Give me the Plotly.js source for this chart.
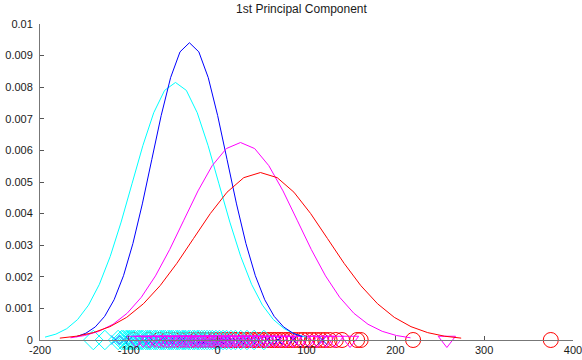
<!DOCTYPE html>
<html>
<head>
<meta charset="utf-8">
<script src="https://cdn.plot.ly/plotly-3.0.1.min.js"></script>
<style>html,body{margin:0;padding:0;background:#fff;}#chart{width:582px;height:360px;}</style>
</head>
<body>
<div id="chart"></div>
<script>
// Fitted density curves
var blueCurveX = [-159, -148.4, -137.8, -127.2, -116.6, -106, -95.4, -84.8, -74.2, -63.6, -53, -42.4, -31.8, -21.2, -10.6, 0, 10.6, 21.2, 31.8, 42.4, 53, 63.6, 74.2, 84.8, 95.4];
var blueCurveY = [0.0001045, 0.0002144, 0.0004133, 0.0007484, 0.0012731, 0.0020344, 0.003054, 0.004307, 0.005706, 0.007101, 0.008302, 0.009118, 0.009407, 0.009118, 0.008302, 0.007101, 0.005706, 0.004307, 0.003054, 0.0020344, 0.0012731, 0.0007484, 0.0004133, 0.0002144, 0.0001045];

var cyanCurveX = [-194.35, -182.11, -169.88, -157.64, -145.4, -133.16, -120.93, -108.69, -96.45, -84.21, -71.98, -59.74, -47.5, -35.26, -23.02, -10.79, 1.45, 13.69, 25.93, 38.16, 50.4, 62.64, 74.88, 87.11, 99.35];
var cyanCurveY = [0.0000905, 0.0001857, 0.0003581, 0.0006484, 0.001103, 0.0017626, 0.002646, 0.003731, 0.004943, 0.006152, 0.007192, 0.007899, 0.00815, 0.007899, 0.007192, 0.006152, 0.004943, 0.003731, 0.002646, 0.0017626, 0.001103, 0.0006484, 0.0003581, 0.0001857, 0.0000905];

var magentaCurveX = [-165.7, -149.75, -133.8, -117.85, -101.9, -85.95, -70.0, -54.05, -38.1, -22.15, -6.2, 9.75, 25.7, 41.65, 57.6, 73.55, 89.5, 105.45, 121.4, 137.35, 153.3, 169.25, 185.2, 201.15, 217.1];
var magentaCurveY = [0.0000694, 0.0001424, 0.0002746, 0.0004973, 0.0008459, 0.0013517, 0.002029, 0.002861, 0.003791, 0.004718, 0.005516, 0.006058, 0.00625, 0.006058, 0.005516, 0.004718, 0.003791, 0.002861, 0.002029, 0.0013517, 0.0008459, 0.0004973, 0.0002746, 0.0001424, 0.0000694];

var redCurveX = [-177.7, -158.88, -140.05, -121.23, -102.4, -83.58, -64.75, -45.93, -27.1, -8.28, 10.55, 29.38, 48.2, 67.03, 85.85, 104.68, 123.5, 142.33, 161.15, 179.98, 198.8, 217.63, 236.45, 255.28, 274.1];
var redCurveY = [0.0000589, 0.0001208, 0.0002329, 0.0004217, 0.0007173, 0.0011462, 0.0017206, 0.0024265, 0.0032146, 0.0040007, 0.0046773, 0.0051369, 0.0053, 0.0051369, 0.0046773, 0.0040007, 0.0032146, 0.0024265, 0.0017206, 0.0011462, 0.0007173, 0.0004217, 0.0002329, 0.0001208, 0.0000589];

// Individual scores along the axis
var bluePoints = [-115, -106, -100, -95, -90, -86, -82, -78, -74, -70, -67, -64, -61, -58, -55, -52, -49, -46, -43, -40, -37, -34, -31, -28, -25, -22, -19, -16, -13, -10, -7, -4, -1, 3, 7, 11, 15, 20, 25, 31, 38, 46, 56, 68, 85, 118];
var cyanPoints = [-140, -127, -112, -108, -106, -103, -101, -99, -97, -95, -93, -90, -88, -86, -84, -81, -79, -77, -75, -72, -70, -68, -65, -63, -61, -59, -56, -54, -52, -50, -47, -45, -43, -40, -38, -36, -33, -31, -28, -26, -23, -21, -18, -15, -12, -9, -6, -2, 2, 6, 10, 15, 20, 26, 33, 41, 52];
var magentaPoints = [-92, -84, -77, -71, -66, -61, -57, -53, -49, -45, -41, -38, -35, -32, -28, -25, -22, -19, -16, -13, -10, -7, -4, -1, 2, 5, 8, 11, 14, 17, 20, 23, 27, 31, 35, 39, 43, 48, 53, 58, 64, 70, 77, 85, 93, 102, 112, 122, 132, 149, 258];
var redPoints = [-95, -78, -66, -57, -49, -42, -36, -30, -24, -19, -14, -9, -4, 1, 6, 10, 14, 18, 22, 26, 30, 34, 38, 42, 46, 50, 54, 58, 62, 66, 70, 74, 78, 82, 86, 91, 96, 101, 106, 111, 116, 121, 126, 133, 140, 157, 161, 220, 375];

var xTicks = [-200, -100, 0, 100, 200, 300, 400];
var yTicks = [0, 0.001, 0.002, 0.003, 0.004, 0.005, 0.006, 0.007, 0.008, 0.009, 0.01];
var yTickText = ['0', '0.001', '0.002', '0.003', '0.004', '0.005', '0.006', '0.007', '0.008', '0.009', '0.01'];

function zeros(a){ return a.map(function(){ return 0; }); }

function pts(xs, color, symbol, size){
  return {x: xs, y: zeros(xs), type: 'scatter', mode: 'markers', cliponaxis: false,
    marker: {symbol: symbol, size: size, color: color, line: {color: color, width: 1}}, hoverinfo: 'skip'};
}
function curve(xs, ys, color){
  return {x: xs, y: ys, type: 'scatter', mode: 'lines', line: {color: color, width: 1}, cliponaxis: false, hoverinfo: 'skip'};
}

var data = [
  pts(redPoints, '#ff0000', 'circle-open', 15),
  pts(bluePoints, '#0000ff', 'x-thin-open', 9),
  pts(cyanPoints, '#00ffff', 'diamond-open', 15),
  pts(magentaPoints, '#ff00ff', 'triangle-down-open', 15),
  curve(cyanCurveX, cyanCurveY, '#00ffff'),
  curve(blueCurveX, blueCurveY, '#0000ff'),
  curve(magentaCurveX, magentaCurveY, '#ff00ff'),
  curve(redCurveX, redCurveY, '#ff0000')
];

var font = {family: 'Liberation Sans, Arial, sans-serif', size: 11, color: '#1a1a1a'};
var layout = {
  width: 582, height: 360,
  margin: {l: 40, r: 9, t: 24, b: 20, pad: 0},
  paper_bgcolor: '#ffffff', plot_bgcolor: '#ffffff',
  showlegend: false,
  font: font,
  title: {text: '1st Principal Component', font: {family: 'Liberation Sans, Arial, sans-serif', size: 12, color: '#1a1a1a'}, x: 0.518, xanchor: 'center', y: 0.975, yanchor: 'middle'},
  xaxis: {range: [-200, 400], tickvals: xTicks, ticktext: xTicks.map(String), ticks: 'inside', ticklen: 4, tickcolor: '#555', tickwidth: 1,
    ticklabeloverflow: 'allow', showline: true, linecolor: '#777', linewidth: 1, showgrid: false, zeroline: false, tickfont: font, fixedrange: true},
  yaxis: {range: [0, 0.01], tickvals: yTicks, ticktext: yTickText, ticks: 'inside', ticklen: 4, tickcolor: '#555', tickwidth: 1,
    showline: true, linecolor: '#777', linewidth: 1, showgrid: false, zeroline: false, tickfont: font, ticklabelstandoff: 4, fixedrange: true}
};

Plotly.newPlot('chart', data, layout, {staticPlot: true, displayModeBar: false});
</script>
</body>
</html>
